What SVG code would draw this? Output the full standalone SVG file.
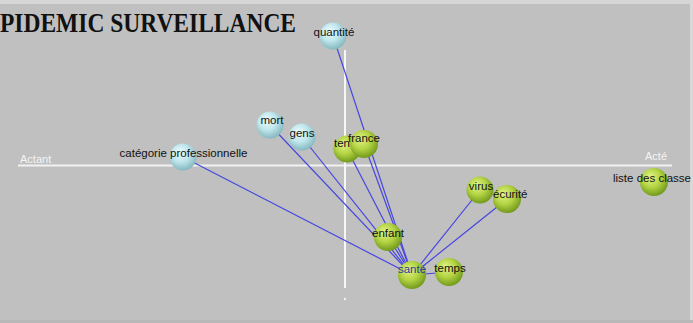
<svg xmlns="http://www.w3.org/2000/svg" width="693" height="323" viewBox="0 0 693 323">
<defs>
<radialGradient id="gc" cx="0.45" cy="0.4" r="0.6" fx="0.35" fy="0.3">
<stop offset="0" stop-color="#eefcfd"/>
<stop offset="0.55" stop-color="#bfe6ec"/>
<stop offset="1" stop-color="#86b8c0"/>
</radialGradient>
<radialGradient id="gg" cx="0.45" cy="0.4" r="0.6" fx="0.35" fy="0.3">
<stop offset="0" stop-color="#e4f48a"/>
<stop offset="0.55" stop-color="#b4d444"/>
<stop offset="1" stop-color="#729a1c"/>
</radialGradient>
<style>
.c{fill:url(#gc)}
.g{fill:url(#gg)}
.lb{font-family:"Liberation Sans",Arial,sans-serif;font-size:11.5px;fill:#111;text-anchor:middle}
.ax{font-family:"Liberation Sans",Arial,sans-serif;font-size:11px;fill:#f4f4f4}
.e{stroke:#4646e0;stroke-width:1.2;fill:none}
</style>
</defs>
<rect x="0" y="0" width="693" height="323" fill="#c0c0c0"/>
<rect x="0" y="0" width="693" height="4" fill="#d6d6d6"/>
<rect x="690" y="0" width="3" height="323" fill="#d8d8d8"/>
<rect x="0" y="320" width="693" height="3" fill="#b8b8b8"/>
<text x="0" y="26.7" transform="scale(1,1.2)" font-family="'Liberation Serif',Cambria,serif" font-weight="bold" font-size="23.5" fill="#111">PIDEMIC SURVEILLANCE</text>
<g id="axes">
<line x1="18" y1="165.5" x2="672" y2="165.5" stroke="#f2f2f2" stroke-width="2"/>
<line x1="345" y1="50" x2="345" y2="288" stroke="#f6f6f6" stroke-width="2"/>
<circle cx="345" cy="299" r="1.2" fill="#f0f0f0"/>
<text class="ax" x="20" y="163">Actant</text>
<text class="ax" x="645" y="160">Acté</text>
</g>
<g id="edges">
<line class="e" x1="333" y1="36" x2="412" y2="275"/>
<line class="e" x1="364" y1="144" x2="412" y2="275"/>
<line class="e" x1="347" y1="149" x2="412" y2="275"/>
<line class="e" x1="270" y1="125" x2="412" y2="275"/>
<line class="e" x1="302" y1="137" x2="412" y2="275"/>
<line class="e" x1="183" y1="157" x2="412" y2="275"/>
<line class="e" x1="388" y1="237" x2="412" y2="275"/>
<line class="e" x1="480" y1="190" x2="412" y2="275"/>
<line class="e" x1="507" y1="199" x2="412" y2="275"/>
<line class="e" x1="449" y1="272" x2="412" y2="275"/>
</g>
<g id="n-quantite"><circle class="c" cx="333" cy="36" r="13.5"/><text class="lb" x="334" y="36">quantité</text></g>
<g id="n-mort"><circle class="c" cx="270" cy="125" r="13.5"/><text class="lb" x="272" y="124">mort</text></g>
<g id="n-gens"><circle class="c" cx="302" cy="137" r="13.5"/><text class="lb" x="302" y="137">gens</text></g>
<g id="n-categorie"><circle class="c" cx="183" cy="157" r="13.5"/><text class="lb" x="183.5" y="157">catégorie professionnelle</text></g>
<g id="n-ten"><circle class="g" cx="347" cy="149" r="13.5"/><text class="lb" x="334" y="147" style="text-anchor:start">ten</text></g>
<g id="n-france"><circle class="g" cx="364" cy="144" r="14"/><text class="lb" x="364" y="142">france</text></g>
<g id="n-virus"><circle class="g" cx="480" cy="190" r="13.5"/><text class="lb" x="481" y="190">virus</text></g>
<g id="n-securite"><circle class="g" cx="507" cy="199" r="14"/><text class="lb" x="493" y="198" style="text-anchor:start">écurité</text></g>
<g id="n-enfant"><circle class="g" cx="388" cy="237" r="14"/><text class="lb" x="388" y="237">enfant</text></g>
<g id="n-sante"><circle class="g" cx="412" cy="275" r="14"/><text class="lb" x="412" y="273" style="fill:#2a3c9c">santé</text></g>
<g id="n-temps"><circle class="g" cx="449" cy="272" r="14"/><text class="lb" x="450" y="272">temps</text></g>
<g id="n-liste"><circle class="g" cx="654" cy="182" r="14"/><text class="lb" x="613" y="182" style="text-anchor:start">liste des classe</text></g>
</svg>
